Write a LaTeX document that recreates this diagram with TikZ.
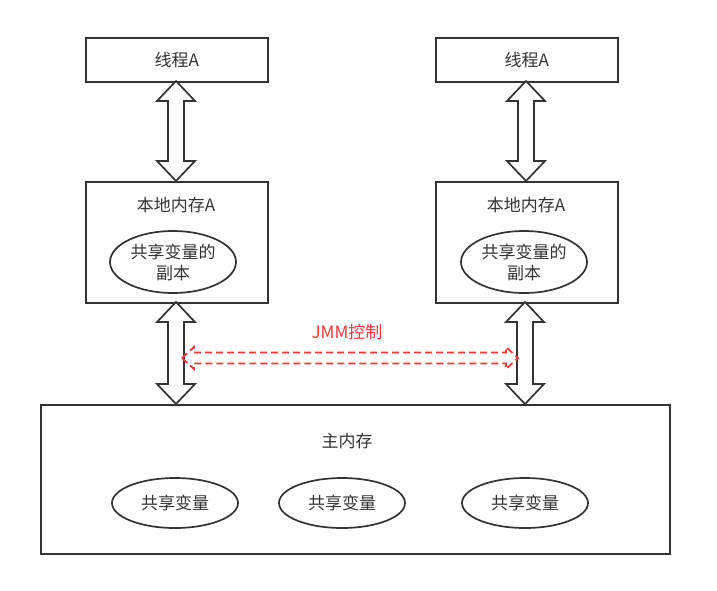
\documentclass[tikz,border=0pt]{standalone}
\usepackage{fontspec}
\setmainfont{Noto Sans CJK SC}
\usetikzlibrary{calc,shapes.geometric}
\definecolor{ln}{HTML}{333333}
\definecolor{jmm}{HTML}{FF3333}
\tikzset{
  boxnode/.style={draw=ln,line width=1.7pt,rectangle,inner sep=0pt,anchor=north west},
  ellnode/.style={draw=ln,line width=1.7pt,ellipse,inner sep=0pt,align=center,text=ln,font=\fontsize{17}{21}\selectfont},
  lbl/.style={text=ln,font=\fontsize{17}{21}\selectfont},
  harrow/.style={draw=ln,line width=1.7pt,fill=white,line join=miter},
  jarrow/.style={draw=jmm,line width=1.8pt,dash pattern=on 7pt off 4pt,line join=miter},
}
\newcommand{\vdarrow}[2]{%
  \path[harrow] let \p1=(#1), \p2=(#2) in
    (\x1,\y1) -- (\x1+19pt,\y1-20pt) -- (\x1+8pt,\y1-20pt) -- (\x1+8pt,\y2+20pt)
    -- (\x1+19pt,\y2+20pt) -- (\x1,\y2) -- (\x1-19pt,\y2+20pt) -- (\x1-8pt,\y2+20pt)
    -- (\x1-8pt,\y1-20pt) -- (\x1-19pt,\y1-20pt) -- cycle;}
\begin{document}
\begin{tikzpicture}[x=1pt,y=-1pt]
\useasboundingbox (0,0) rectangle (717,590);
% thread boxes
\node[boxnode,minimum width=182pt,minimum height=44pt] (ta) at (85,37) {};
\node[lbl] at (ta.center) {线程A};
\node[boxnode,minimum width=182pt,minimum height=44pt] (tb) at (435,37) {};
\node[lbl] at (tb.center) {线程A};
% local memory boxes
\node[boxnode,minimum width=182pt,minimum height=121pt] (la) at (85,181) {};
\node[lbl] (lal) at (176,205) {本地内存A};
\node[ellnode,minimum width=126pt,minimum height=62pt] (ea) at (173,262) {共享变量的\\副本};
\node[boxnode,minimum width=182pt,minimum height=121pt] (lb) at (435,181) {};
\node[lbl] (lbl2) at (526,205) {本地内存A};
\node[ellnode,minimum width=126pt,minimum height=62pt] (eb) at (524,262) {共享变量的\\副本};
% main memory
\node[boxnode,minimum width=629pt,minimum height=149pt] (mm) at (40,404) {};
\node[lbl] (mml) at (347,441) {主内存};
\node[ellnode,minimum width=126pt,minimum height=50pt] (m1) at (175,503) {共享变量};
\node[ellnode,minimum width=126pt,minimum height=50pt] (m2) at (342,503) {共享变量};
\node[ellnode,minimum width=126pt,minimum height=50pt] (m3) at (525,503) {共享变量};
% vertical double arrows
\coordinate (a1t) at (176,81); \coordinate (a1b) at (176,181);
\coordinate (a2t) at (526,81); \coordinate (a2b) at (526,181);
\coordinate (a3t) at (176,302); \coordinate (a3b) at (176,404);
\coordinate (a4t) at (525,302); \coordinate (a4b) at (525,404);
\vdarrow{a1t}{a1b}
\vdarrow{a2t}{a2b}
\vdarrow{a3t}{a3b}
\vdarrow{a4t}{a4b}
% JMM dashed double arrow
\coordinate (jl) at (182,358); \coordinate (jr) at (518,358);
\path[jarrow] let \p1=(jl), \p2=(jr) in
  (\x1,\y1) -- (\x1+12pt,\y1+11pt) -- (\x1+12pt,\y1+5.5pt) -- (\x2-12pt,\y1+5.5pt)
  -- (\x2-12pt,\y1+11pt) -- (\x2,\y1) -- (\x2-12pt,\y1-11pt) -- (\x2-12pt,\y1-5.5pt)
  -- (\x1+12pt,\y1-5.5pt) -- (\x1+12pt,\y1-11pt) -- cycle;
\node[text=jmm,font=\fontsize{17}{21}\selectfont] (jmmlbl) at (347,332) {JMM控制};
\end{tikzpicture}
\end{document}
